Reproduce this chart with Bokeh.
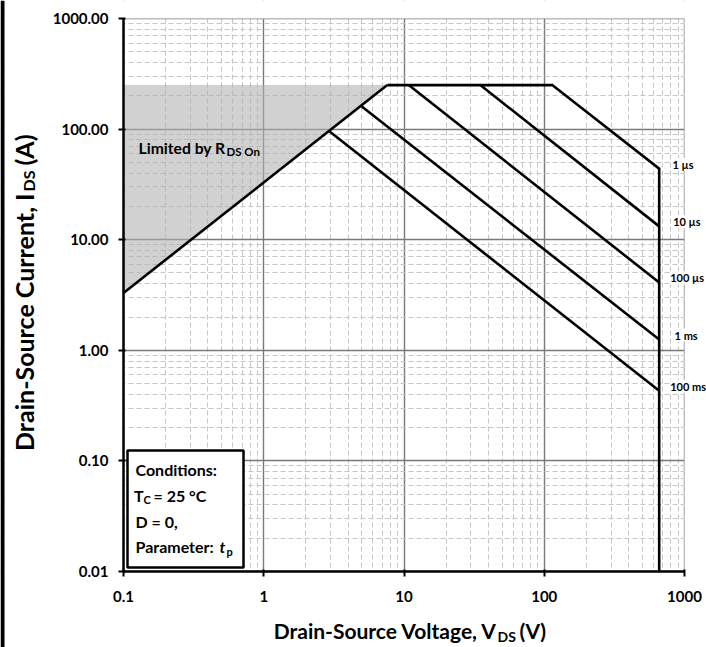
import math
from bokeh.plotting import figure
from bokeh.models import FixedTicker, CustomJSTickFormatter, Label, BoxAnnotation
from bokeh.embed import file_html
from bokeh.resources import INLINE

# ---------------- data ----------------
x_ticks = [0.1, 1, 10, 100, 1000]
y_ticks = [0.01, 0.1, 1, 10, 100, 1000]

# R_DS(on) limit line (V, A)
rds_v = [0.1, 7.6]
rds_i = [3.3, 250.0]
# outer envelope: current limit, 1 us power line, voltage limit
env_v = [7.6, 114.0, 660.0, 660.0]
env_i = [250.0, 250.0, 43.8, 0.01]
# pulse lines
t10us_v = [35.0, 660.0]
t10us_i = [250.0, 13.2]
t100us_v = [10.8, 660.0]
t100us_i = [250.0, 4.1]
t1ms_v = [5.0, 660.0]
t1ms_i = [160.0, 1.25]
t100ms_v = [2.95, 660.0]
t100ms_i = [95.0, 0.43]

pulse_labels = ["1 µs", "10 µs", "100 µs", "1 ms", "100 ms"]
pulse_end_i = [43.8, 13.2, 4.1, 1.25, 0.43]

FONT = "Lato"

# ---------------- geometry (pixels) ----------------
W, H = 706, 647
PL, PR, PT, PB = 123, 684, 18, 571      # plot-area edges on the canvas
dx = (PR - PL) / 4.0                    # px per decade in x
dy = (PB - PT) / 5.0                    # px per decade in y
x_start = 10 ** (-1 - PL / dx)
x_end = 10 ** (3 + (W - PR) / dx)
y_start = 10 ** (-2 - (H - PB) / dy)
y_end = 10 ** (3 + PT / dy)

p = figure(width=W, height=H, x_axis_type="log", y_axis_type="log",
           x_range=(x_start, x_end), y_range=(y_start, y_end),
           output_backend="svg", toolbar_location=None,
           min_border=0, min_border_left=0, min_border_right=0,
           min_border_top=0, min_border_bottom=0)
p.background_fill_color = "white"
p.border_fill_color = "white"
p.outline_line_color = None

xminor = [m * 10.0 ** e for e in range(-1, 3) for m in range(2, 10)]
yminor = [m * 10.0 ** e for e in range(-2, 3) for m in range(2, 10)]
xt = FixedTicker(ticks=x_ticks, minor_ticks=xminor)
yt = FixedTicker(ticks=y_ticks, minor_ticks=yminor)
p.xaxis.ticker = xt
p.yaxis.ticker = yt
p.xgrid.ticker = xt
p.ygrid.ticker = yt
p.xaxis.bounds = (x_ticks[0], x_ticks[-1])
p.yaxis.bounds = (y_ticks[0], y_ticks[-1])
p.xgrid.bounds = (x_ticks[0], x_ticks[-1])
p.ygrid.bounds = (y_ticks[0], y_ticks[-1])
p.xaxis.fixed_location = y_ticks[0]
p.yaxis.fixed_location = x_ticks[0]

p.xaxis.formatter = CustomJSTickFormatter(code="return String(tick)")
p.yaxis.formatter = CustomJSTickFormatter(code="return tick.toFixed(2)")

for ax in (p.xaxis[0], p.yaxis[0]):
    ax.axis_line_color = "black"
    ax.axis_line_width = 2.5
    ax.major_tick_line_color = "black"
    ax.major_tick_line_width = 2
    ax.major_tick_out = 5
    ax.major_tick_in = 2
    ax.minor_tick_line_color = None
    ax.major_label_text_font = FONT
    ax.major_label_text_font_style = "bold"
    ax.major_label_text_font_size = "15px"
    ax.major_label_text_color = "black"
p.xaxis.major_label_standoff = 14
p.yaxis.major_label_standoff = 10

for g in (p.xgrid[0], p.ygrid[0]):
    g.grid_line_color = "#7a7a7a"
    g.grid_line_width = 1.4
    g.minor_grid_line_color = "#c6c6c6"
    g.minor_grid_line_width = 1
    g.minor_grid_line_dash = "5 3"

# white margins: hide grid lines outside the plot area
for kw in (dict(right=x_ticks[0]), dict(left=x_ticks[-1]),
           dict(top=y_ticks[0]), dict(bottom=y_ticks[-1])):
    p.add_layout(BoxAnnotation(fill_color="white", fill_alpha=1.0, line_color=None,
                               level="underlay", **kw))

# shaded R_DS(on) region
p.patch(x=[rds_v[0], rds_v[1], rds_v[0]], y=[rds_i[0], rds_i[1], rds_i[1]],
        fill_color="#b0b0b0", fill_alpha=0.58, line_color=None)

lw = 2.6
p.line(rds_v, rds_i, line_color="black", line_width=lw)
p.line(env_v, env_i, line_color="black", line_width=lw, line_join="miter")
for vv, ii in [(t10us_v, t10us_i), (t100us_v, t100us_i), (t1ms_v, t1ms_i), (t100ms_v, t100ms_i)]:
    p.line(vv, ii, line_color="black", line_width=lw)

# pulse labels on the right
label_x = [820, 830, 790, 850, 790]
for lab, iend, lx in zip(pulse_labels, pulse_end_i, label_x):
    p.add_layout(Label(x=lx, y=iend * 1.1, text=lab, text_font=FONT, text_font_style="bold",
                       text_font_size="11px", text_color="black", text_align="left",
                       text_baseline="middle", background_fill_color="white"))


def lbl(cx, cy, text, size, **kw):
    """Label whose text centre-line sits at canvas pixel (cx, cy), top-left origin."""
    opts = dict(text_font=FONT, text_font_style="bold", text_color="black",
                text_baseline="middle", text_align="left")
    opts.update(kw)
    p.add_layout(Label(x=cx, y=H - cy, x_units="screen", y_units="screen", text=text,
                       text_font_size=size, **opts))


# Limited by R_DS On
lbl(225, 147, "Limited by R", "15.7px", text_align="right")
lbl(226, 151, "DS On", "11.5px")

# conditions box
p.add_layout(BoxAnnotation(left=127, right=243, bottom=H - 567, top=H - 450,
                           left_units="screen", right_units="screen",
                           bottom_units="screen", top_units="screen",
                           fill_color="white", fill_alpha=1.0,
                           line_color="black", line_alpha=1.0, line_width=2.5))
CS = "16px"
lbl(135, 469, "Conditions:", CS)
lbl(143, 495, "T", CS, text_align="right")
lbl(143, 499, "C", "11px")
lbl(153, 495, "= 25 °C", CS)
lbl(135, 521, "D = 0,", CS)
lbl(135, 546, "Parameter:", CS)
lbl(219, 546, "t", CS, text_font_style="bold italic")
lbl(226, 551, "p", "11px")

# y-axis title (rotated)
lbl(23, 193, "Drain-Source Current, I", "25px", text_align="right", angle=math.pi / 2)
lbl(28, 191, "DS", "16px", angle=math.pi / 2)
lbl(23, 165, "(A)", "25px", angle=math.pi / 2)

# x-axis title
lbl(497, 630, "Drain-Source Voltage, V", "21px", text_align="right")
lbl(497, 636, "DS", "14px")
lbl(519, 630, "(V)", "21px")

# dark strip along the left edge of the picture
p.add_layout(BoxAnnotation(left=0, right=4, left_units="screen", right_units="screen",
                           fill_color="black", fill_alpha=1.0, line_color=None))

open("out.html", "w").write(file_html(p, INLINE))
